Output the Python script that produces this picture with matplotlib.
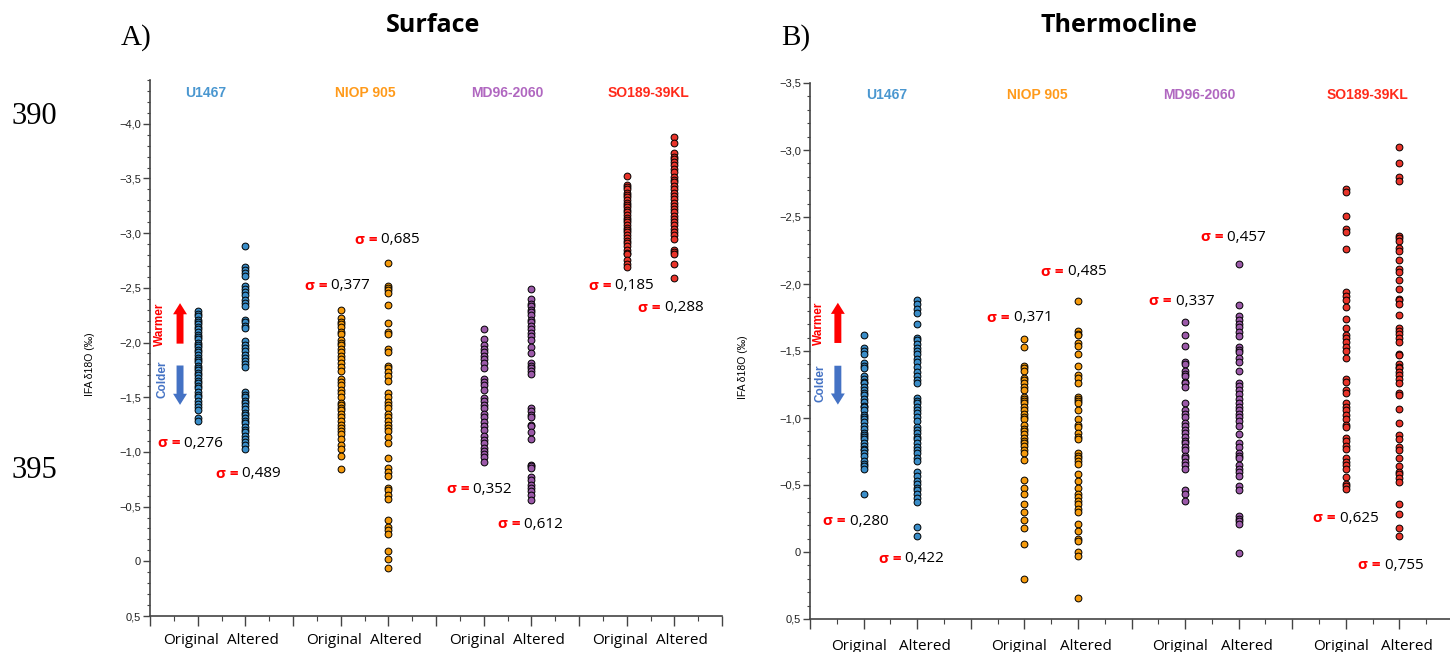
import matplotlib
matplotlib.use('Agg')
import matplotlib.pyplot as plt
import numpy as np
from matplotlib.ticker import MultipleLocator, FuncFormatter
from matplotlib.transforms import offset_copy

sites = ['U1467', 'NIOP 905', 'MD96-2060', 'SO189-39KL']
site_colors = ['#4a97d0', '#ff9a1a', '#b067c0', '#ff2a1a']
dot_colors = ['#3a8dc8', '#f59a0c', '#9b59a8', '#e8342a']
groups = ['Original', 'Altered']

# A) surface, IFA d18O (permil)
sur_u1467_orig = [-2.29, -2.26, -2.24, -2.21, -2.19, -2.17, -2.14, -2.12, -2.10, -2.07, -2.05, -2.03,
                  -2.00, -1.98, -1.96, -1.93, -1.91, -1.89, -1.86, -1.84, -1.82, -1.79, -1.77, -1.75,
                  -1.72, -1.70, -1.68, -1.65, -1.63, -1.60, -1.58, -1.55, -1.52, -1.50, -1.47, -1.44,
                  -1.41, -1.38, -1.31, -1.28]
sur_u1467_alt = [-2.88, -2.69, -2.66, -2.64, -2.61, -2.52, -2.49, -2.46, -2.43, -2.39, -2.36, -2.33,
                 -2.21, -2.19, -2.15, -2.13, -2.01, -1.98, -1.95, -1.92, -1.89, -1.86, -1.83, -1.80,
                 -1.78, -1.55, -1.52, -1.50, -1.47, -1.45, -1.42, -1.39, -1.36, -1.34, -1.31, -1.28,
                 -1.26, -1.23, -1.20, -1.18, -1.15, -1.12, -1.09, -1.06, -1.03]
sur_niop_orig = [-2.30, -2.22, -2.19, -2.17, -2.14, -2.10, -2.08, -2.02, -2.00, -1.98, -1.94, -1.91,
                 -1.88, -1.85, -1.81, -1.78, -1.74, -1.67, -1.64, -1.61, -1.57, -1.54, -1.50, -1.45,
                 -1.43, -1.40, -1.38, -1.35, -1.32, -1.28, -1.25, -1.22, -1.19, -1.16, -1.12, -1.06,
                 -1.03, -0.96, -0.84]
sur_niop_alt = [-2.73, -2.52, -2.50, -2.48, -2.45, -2.34, -2.18, -2.10, -2.08, -1.94, -1.91, -1.79,
                -1.77, -1.73, -1.69, -1.65, -1.54, -1.50, -1.46, -1.43, -1.40, -1.35, -1.32, -1.28,
                -1.25, -1.22, -1.19, -1.14, -1.08, -0.94, -0.85, -0.82, -0.78, -0.67, -0.65, -0.61,
                -0.57, -0.38, -0.31, -0.29, -0.25, -0.09, -0.02, 0.06]
sur_md96_orig = [-2.12, -2.03, -1.98, -1.94, -1.91, -1.88, -1.85, -1.81, -1.77, -1.67, -1.64, -1.61,
                 -1.57, -1.49, -1.47, -1.43, -1.40, -1.35, -1.32, -1.27, -1.24, -1.20, -1.15, -1.11,
                 -1.08, -1.04, -1.01, -0.98, -0.95, -0.91]
sur_md96_alt = [-2.49, -2.40, -2.35, -2.33, -2.30, -2.28, -2.25, -2.21, -2.19, -2.15, -2.12, -2.09,
                -2.06, -2.02, -1.96, -1.90, -1.81, -1.79, -1.77, -1.74, -1.71, -1.40, -1.37, -1.34,
                -1.32, -1.25, -1.24, -1.18, -1.12, -0.88, -0.87, -0.85, -0.77, -0.74, -0.70, -0.67,
                -0.64, -0.61, -0.56]
sur_so189_orig = [-3.52, -3.44, -3.42, -3.40, -3.37, -3.35, -3.33, -3.30, -3.28, -3.26, -3.24, -3.21,
                  -3.19, -3.17, -3.14, -3.12, -3.10, -3.07, -3.05, -3.03, -3.01, -2.98, -2.96, -2.93,
                  -2.91, -2.88, -2.85, -2.82, -2.81, -2.75, -2.72, -2.69]
sur_so189_alt = [-3.88, -3.82, -3.73, -3.70, -3.68, -3.65, -3.62, -3.59, -3.56, -3.51, -3.49, -3.47,
                 -3.43, -3.40, -3.37, -3.34, -3.31, -3.28, -3.25, -3.22, -3.19, -3.16, -3.13, -3.10,
                 -3.07, -3.04, -3.01, -2.98, -2.95, -2.85, -2.83, -2.81, -2.72, -2.59]

# B) thermocline
thc_u1467_orig = [-1.62, -1.52, -1.50, -1.48, -1.41, -1.39, -1.37, -1.31, -1.29, -1.27, -1.26, -1.23,
                  -1.21, -1.19, -1.17, -1.14, -1.12, -1.09, -1.08, -1.06, -1.02, -1.01, -0.99, -0.97,
                  -0.94, -0.92, -0.89, -0.87, -0.86, -0.84, -0.81, -0.79, -0.77, -0.76, -0.74, -0.72,
                  -0.68, -0.66, -0.64, -0.62, -0.43]
thc_u1467_alt = [-1.88, -1.85, -1.81, -1.78, -1.70, -1.60, -1.58, -1.55, -1.52, -1.50, -1.48, -1.44,
                 -1.42, -1.38, -1.34, -1.31, -1.28, -1.26, -1.15, -1.13, -1.11, -1.08, -1.06, -1.04,
                 -1.01, -0.98, -0.93, -0.91, -0.89, -0.86, -0.84, -0.81, -0.78, -0.76, -0.74, -0.70,
                 -0.68, -0.60, -0.57, -0.53, -0.51, -0.48, -0.46, -0.43, -0.40, -0.37, -0.19, -0.12]
thc_niop_orig = [-1.59, -1.53, -1.39, -1.37, -1.35, -1.30, -1.28, -1.26, -1.23, -1.21, -1.16, -1.14,
                 -1.13, -1.11, -1.08, -1.06, -1.03, -1.01, -0.99, -0.95, -0.92, -0.90, -0.88, -0.85,
                 -0.83, -0.81, -0.79, -0.76, -0.74, -0.69, -0.54, -0.48, -0.43, -0.36, -0.30, -0.24,
                 -0.18, -0.06, 0.20]
thc_niop_alt = [-1.87, -1.65, -1.63, -1.62, -1.56, -1.54, -1.48, -1.39, -1.32, -1.30, -1.26, -1.16,
                -1.14, -1.13, -1.11, -1.06, -0.99, -0.95, -0.93, -0.89, -0.86, -0.84, -0.74, -0.72,
                -0.70, -0.68, -0.66, -0.58, -0.53, -0.48, -0.43, -0.41, -0.38, -0.36, -0.32, -0.30,
                -0.21, -0.16, -0.10, -0.08, 0.00, 0.03, 0.34]
thc_md96_orig = [-1.72, -1.62, -1.54, -1.42, -1.40, -1.35, -1.33, -1.31, -1.27, -1.26, -1.23, -1.11,
                 -1.06, -1.03, -1.01, -0.96, -0.94, -0.91, -0.89, -0.86, -0.83, -0.81, -0.78, -0.76,
                 -0.72, -0.70, -0.67, -0.65, -0.62, -0.46, -0.43, -0.38]
thc_md96_alt = [-2.15, -1.84, -1.76, -1.73, -1.70, -1.68, -1.64, -1.61, -1.53, -1.51, -1.49, -1.45,
                -1.42, -1.35, -1.26, -1.24, -1.21, -1.18, -1.14, -1.11, -1.08, -1.06, -1.03, -1.01,
                -0.98, -0.94, -0.88, -0.81, -0.78, -0.74, -0.72, -0.70, -0.65, -0.62, -0.60, -0.57,
                -0.49, -0.46, -0.27, -0.25, -0.23, -0.21, 0.01]
thc_so189_orig = [-2.71, -2.69, -2.51, -2.41, -2.39, -2.26, -1.94, -1.91, -1.88, -1.83, -1.74, -1.67,
                  -1.62, -1.60, -1.57, -1.53, -1.50, -1.45, -1.29, -1.27, -1.21, -1.19, -1.11, -1.08,
                  -1.06, -1.02, -0.99, -0.95, -0.93, -0.85, -0.83, -0.79, -0.77, -0.70, -0.67, -0.65,
                  -0.62, -0.56, -0.51, -0.49, -0.47]
thc_so189_alt = [-3.02, -2.90, -2.80, -2.77, -2.36, -2.34, -2.32, -2.27, -2.25, -2.18, -2.11, -2.09,
                 -2.03, -1.96, -1.89, -1.88, -1.85, -1.77, -1.67, -1.65, -1.63, -1.60, -1.57, -1.48,
                 -1.47, -1.40, -1.38, -1.37, -1.34, -1.32, -1.29, -1.26, -1.19, -1.17, -1.07, -0.96,
                 -0.87, -0.84, -0.78, -0.76, -0.70, -0.64, -0.60, -0.58, -0.55, -0.52, -0.36, -0.28,
                 -0.18, -0.12]

sur_sigma = ['0,276', '0,489', '0,377', '0,685', '0,352', '0,612', '0,185', '0,288']
thc_sigma = ['0,280', '0,422', '0,371', '0,485', '0,337', '0,457', '0,625', '0,755']

sur_data = [sur_u1467_orig, sur_u1467_alt, sur_niop_orig, sur_niop_alt,
            sur_md96_orig, sur_md96_alt, sur_so189_orig, sur_so189_alt]
thc_data = [thc_u1467_orig, thc_u1467_alt, thc_niop_orig, thc_niop_alt,
            thc_md96_orig, thc_md96_alt, thc_so189_orig, thc_so189_alt]


def fmt_tick(v, pos):
    if abs(v) < 1e-9:
        return '0'
    return ('%.1f' % v).replace('.', ',').replace('-', '\u2212')


def draw_panel(fig, ax, data, sigma, ylim, sig_pos, site_y, site_x, arrows, lab_dy, lab_dx):
    for i, vals in enumerate(data):
        site = i // 2
        x = 3 * site + 1 + (i % 2)
        ax.scatter(np.full(len(vals), x), vals, s=24, c=dot_colors[site],
                   edgecolors='black', linewidths=0.7, zorder=3, clip_on=False)
        # Original / Altered label under each column
        tr = offset_copy(ax.get_xaxis_transform(), fig=fig, x=lab_dx[i % 2], y=lab_dy,
                         units='dots')
        ax.text(x, 0, groups[i % 2], transform=tr, fontsize=11, family='Open Sans',
                ha='center', va='center', clip_on=False)
    ax.set_xlim(0, 12)
    ax.set_ylim(*ylim)
    for s in ['top', 'right']:
        ax.spines[s].set_visible(False)
    for s in ['left', 'bottom']:
        ax.spines[s].set_color('#444444')
        ax.spines[s].set_linewidth(1.2)

    ax.yaxis.set_major_locator(MultipleLocator(0.5))
    ax.yaxis.set_minor_locator(MultipleLocator(0.1))
    ax.yaxis.set_major_formatter(FuncFormatter(fmt_tick))
    ax.tick_params(axis='y', which='major', length=5, width=1, color='#444444',
                   labelsize=8, pad=1.5, labelcolor='#222222')
    ax.tick_params(axis='y', which='minor', length=2.5, width=0.8, color='#444444')
    for lab in ax.get_yticklabels():
        lab.set_family('Liberation Sans')

    ax.set_xticks(range(13))
    ax.set_xticklabels([''] * 13)
    ax.xaxis.set_minor_locator(MultipleLocator(0.5))
    ax.tick_params(axis='x', which='major', length=7, width=1, color='#444444')
    ax.tick_params(axis='x', which='minor', length=3.5, width=0.8, color='#444444')

    ax.set_ylabel('IFA \u03b418O (\u2030)', fontsize=7.5, family='Liberation Sans')
    ax.yaxis.set_label_coords(-0.096, 0.47)

    for k in range(4):
        ax.text(site_x[k], site_y, sites[k], color=site_colors[k], fontsize=10,
                fontweight='bold', family='Liberation Sans', ha='center', va='center')

    for k, (sx, sy) in enumerate(sig_pos):
        ax.text(sx, sy, '\u03c3 =', color='red', fontsize=11, fontweight='bold',
                family='Open Sans', ha='right', va='center')
        ax.text(sx, sy, ' ' + sigma[k], color='black', fontsize=11,
                family='Open Sans', ha='left', va='center')

    (wx, wy, ax_x, w0, w1, cx, cy, c0, c1) = arrows
    ax.text(wx, wy, 'Warmer', rotation=90, color='red', fontsize=8.5,
            fontweight='bold', family='Liberation Sans', ha='center', va='center')
    ax.text(cx, cy, 'Colder', rotation=90, color='#4472c4', fontsize=8.5,
            fontweight='bold', family='Liberation Sans', ha='center', va='center')
    style = 'simple,head_length=0.8,head_width=1.0,tail_width=0.5'
    ax.annotate('', xy=(ax_x, w1), xytext=(ax_x, w0),
                arrowprops=dict(arrowstyle=style, color='red', mutation_scale=10,
                                shrinkA=0, shrinkB=0, lw=0))
    ax.annotate('', xy=(ax_x, c1), xytext=(ax_x, c0),
                arrowprops=dict(arrowstyle=style, color='#4472c4', mutation_scale=10,
                                shrinkA=0, shrinkB=0, lw=0))


fig = plt.figure(figsize=(14.5, 6.52), dpi=100)

ax1 = fig.add_axes([150 / 1450, 36 / 652, 572 / 1450, 536 / 652])
draw_panel(fig, ax1, sur_data, sur_sigma, (0.5, -4.4),
           [(0.63, -1.08), (1.85, -0.80), (3.72, -2.52), (4.77, -2.94),
            (6.70, -0.66), (7.77, -0.34), (9.68, -2.52), (10.71, -2.32)],
           -4.28, [1.16, 4.52, 7.5, 10.46],
           (0.21, -2.17, 0.63, -1.99, -2.36, 0.27, -1.66, -1.79, -1.43),
           -24, (-7, 8))

ax2 = fig.add_axes([810 / 1450, 33 / 652, 643 / 1450, 536 / 652])
draw_panel(fig, ax2, thc_data, thc_sigma, (0.5, -3.5),
           [(0.67, -0.23), (1.70, 0.05), (3.73, -1.75), (4.74, -2.09),
            (6.75, -1.87), (7.71, -2.35), (9.81, -0.25), (10.65, 0.10)],
           -3.41, [1.44, 4.25, 7.26, 10.41],
           (0.16, -1.71, 0.52, -1.56, -1.86, 0.19, -1.26, -1.39, -1.10),
           -28, (-5, 8))

fig.text(433 / 1450, 1 - 26 / 652, 'Surface', fontsize=18, fontweight='bold',
         family='Open Sans', ha='center', va='center')
fig.text(1119 / 1450, 1 - 26 / 652, 'Thermocline', fontsize=18, fontweight='bold',
         family='Open Sans', ha='center', va='center')
fig.text(136 / 1450, 1 - 38 / 652, 'A)', fontsize=21, family='Liberation Serif',
         ha='center', va='center')
fig.text(796 / 1450, 1 - 38 / 652, 'B)', fontsize=21, family='Liberation Serif',
         ha='center', va='center')
fig.text(34 / 1450, 1 - 117 / 652, '390', fontsize=22, family='Liberation Serif',
         ha='center', va='center')
fig.text(34 / 1450, 1 - 470 / 652, '395', fontsize=22, family='Liberation Serif',
         ha='center', va='center')

plt.savefig('out.png', dpi=100)
